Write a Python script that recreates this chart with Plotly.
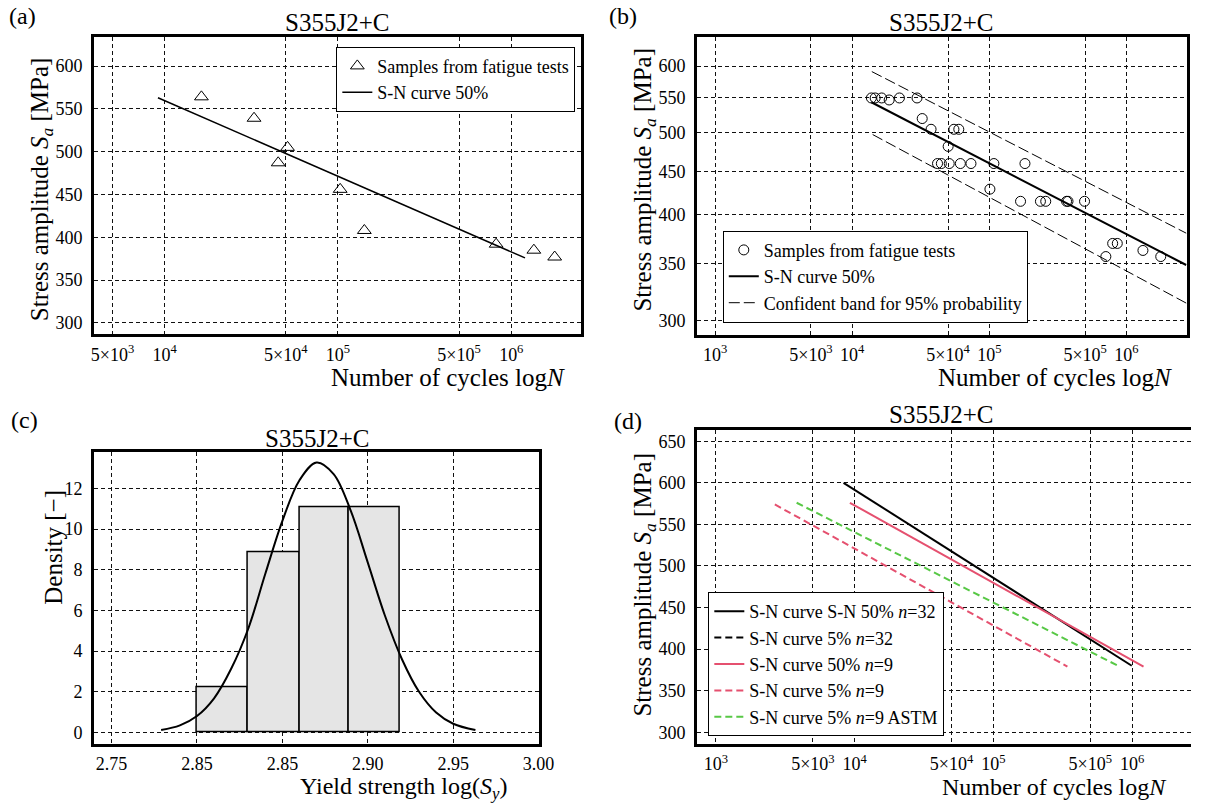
import numpy as np
import plotly.graph_objects as go

W, H = 1206, 803
FONT = "Liberation Serif"

# ---------------- (a) data ----------------
a_cycles = [16300, 32800, 45200, 51200, 103000, 142000, 818000, 1350000, 1780000]
a_stress = [564, 539, 487, 505, 456, 408, 392, 385, 377]
a_curve_cycles = [9150, 1200000]
a_curve_stress = [563, 376]
a_xticks = [5e3, 1e4, 5e4, 1e5, 5e5, 1e6]
a_xticktext = ["5×10<sup>3</sup>", "10<sup>4</sup>", "5×10<sup>4</sup>", "10<sup>5</sup>",
               "5×10<sup>5</sup>", "10<sup>6</sup>"]
a_yticks = [300, 350, 400, 450, 500, 550, 600]

# ---------------- (b) data ----------------
b_cycles = [13800, 14700, 16400, 18600, 22100, 29700, 32400, 37600, 55200, 59900,
            50100, 41900, 44700, 51000, 61500, 73500, 108000, 182000, 101000,
            169000, 236000, 258000, 366000, 375000, 495000, 708000, 794000, 858000,
            1320000, 1780000]
b_stress = [550, 550, 550, 547, 550, 550, 520, 505, 505, 505,
            482, 460, 460, 460, 460, 460, 460, 460, 429,
            415, 415, 415, 415, 415, 415, 357, 370, 370,
            363, 357]
b_curve_cycles = [13800, 2730000]
b_curve_stress = [543.6, 348.9]
b_upper_cycles = [13900, 2730000]
b_upper_stress = [591, 380.5]
b_lower_cycles = [14100, 2730000]
b_lower_stress = [497.8, 314.5]
bd_xticks = [1e3, 5e3, 1e4, 5e4, 1e5, 5e5, 1e6]
bd_xticktext = ["10<sup>3</sup>", "5×10<sup>3</sup>", "10<sup>4</sup>", "5×10<sup>4</sup>",
                "10<sup>5</sup>", "5×10<sup>5</sup>", "10<sup>6</sup>"]
b_yticks = [300, 350, 400, 450, 500, 550, 600]

# ---------------- (c) data ----------------
c_bin_edges = [2.800, 2.830, 2.860, 2.889, 2.919]
c_density = [2.24, 8.88, 11.08, 11.08]
c_pdf_x = [2.779, 2.79, 2.80, 2.81, 2.82, 2.83, 2.84, 2.85, 2.86, 2.87, 2.88,
           2.89, 2.90, 2.91, 2.92, 2.93, 2.94, 2.95, 2.963]
c_pdf_y = [0.12, 0.35, 0.81, 1.68, 3.13, 5.1, 7.8, 10.4, 12.4, 13.27, 12.7,
           10.9, 8.35, 5.75, 3.6, 2.0, 0.98, 0.43, 0.12]
c_xticks = [2.75, 2.80, 2.85, 2.90, 2.95, 3.00]
c_xticktext = ["2.75", "2.85", "2.85", "2.90", "2.95", "3.00"]
c_yticks = [0, 2, 4, 6, 8, 10, 12]

# ---------------- (d) data ----------------
d_n32_50_cycles = [8320, 995000]
d_n32_50_stress = [600, 380]
d_n9_50_cycles = [9250, 1210000]
d_n9_50_stress = [576, 379]
d_n9_5_cycles = [2660, 342000]
d_n9_5_stress = [574, 379]
d_n9_astm_cycles = [3820, 813000]
d_n9_astm_stress = [576, 379]
d_yticks = [300, 350, 400, 450, 500, 550, 600, 650]

RED = "#e5506f"
GREEN = "#58c846"


def px(x):
    return x / W


def py(y):
    return 1 - y / H


fig = go.Figure()

# (a)
fig.add_trace(go.Scatter(x=a_cycles, y=a_stress, mode="markers", name="Samples from fatigue tests",
                         marker=dict(symbol="triangle-up-open", size=12, color="black", line=dict(width=1)),
                         xaxis="x", yaxis="y", legend="legend"))
fig.add_trace(go.Scatter(x=a_curve_cycles, y=a_curve_stress, mode="lines", name="S-N curve 50%",
                         line=dict(color="black", width=1.5), xaxis="x", yaxis="y", legend="legend"))

# (b)
fig.add_trace(go.Scatter(x=b_cycles, y=b_stress, mode="markers", name="Samples from fatigue tests",
                         marker=dict(symbol="circle-open", size=10, color="black", line=dict(width=1)),
                         xaxis="x2", yaxis="y2", legend="legend2"))
fig.add_trace(go.Scatter(x=b_curve_cycles, y=b_curve_stress, mode="lines", name="S-N curve 50%",
                         line=dict(color="black", width=2), xaxis="x2", yaxis="y2", legend="legend2"))
fig.add_trace(go.Scatter(x=b_upper_cycles, y=b_upper_stress, mode="lines",
                         name="Confident band for 95% probability",
                         line=dict(color="black", width=1, dash="11px,4px"), xaxis="x2", yaxis="y2",
                         legend="legend2"))
fig.add_trace(go.Scatter(x=b_lower_cycles, y=b_lower_stress, mode="lines", showlegend=False,
                         line=dict(color="black", width=1, dash="11px,4px"), xaxis="x2", yaxis="y2"))

# (c)
edges = np.array(c_bin_edges)
fig.add_trace(go.Bar(x=(edges[:-1] + edges[1:]) / 2, y=c_density, width=np.diff(edges),
                     marker=dict(color="#e5e5e5", line=dict(color="black", width=1.5)),
                     showlegend=False, xaxis="x3", yaxis="y3"))
fig.add_trace(go.Scatter(x=c_pdf_x, y=c_pdf_y, mode="lines", line=dict(color="black", width=2, shape="spline"),
                         showlegend=False, xaxis="x3", yaxis="y3"))

# (d)
fig.add_trace(go.Scatter(x=d_n32_50_cycles, y=d_n32_50_stress, mode="lines",
                         name="S-N curve S-N 50% <i>n</i>=32",
                         line=dict(color="black", width=2), xaxis="x4", yaxis="y4", legend="legend3"))
fig.add_trace(go.Scatter(x=[None], y=[None], mode="lines", name="S-N curve 5% <i>n</i>=32",
                         line=dict(color="black", width=2, dash="7px,4px"), xaxis="x4", yaxis="y4",
                         legend="legend3"))
fig.add_trace(go.Scatter(x=d_n9_50_cycles, y=d_n9_50_stress, mode="lines", name="S-N curve 50% <i>n</i>=9",
                         line=dict(color=RED, width=2), xaxis="x4", yaxis="y4", legend="legend3"))
fig.add_trace(go.Scatter(x=d_n9_5_cycles, y=d_n9_5_stress, mode="lines", name="S-N curve 5% <i>n</i>=9",
                         line=dict(color=RED, width=2, dash="7px,4px"), xaxis="x4", yaxis="y4",
                         legend="legend3"))
fig.add_trace(go.Scatter(x=d_n9_astm_cycles, y=d_n9_astm_stress, mode="lines",
                         name="S-N curve 5% <i>n</i>=9 ASTM",
                         line=dict(color=GREEN, width=2, dash="7px,4px"), xaxis="x4", yaxis="y4",
                         legend="legend3"))

tickfont = dict(family=FONT, size=18, color="black")
common = dict(showgrid=True, gridcolor="#111", gridwidth=1, griddash="4px,3px", zeroline=False,
              showline=True, linecolor="black", linewidth=2.5, ticks="", tickfont=tickfont)
xc = dict(common, ticklabelstandoff=2)
yc = dict(common, ticklabelstandoff=5)

layout = dict(
    width=W, height=H, margin=dict(l=0, r=0, t=0, b=0),
    paper_bgcolor="white", plot_bgcolor="white",
    font=dict(family=FONT, color="black"),
    xaxis=dict(domain=[px(92.3), px(586.7)], type="log", range=[3.592, 6.402], anchor="y",
               tickvals=a_xticks, ticktext=a_xticktext, mirror=True, **xc),
    yaxis=dict(domain=[py(334.3), py(36.7)], range=[286.8, 634.2], anchor="x",
               tickvals=a_yticks, mirror=True, **yc),
    xaxis2=dict(domain=[px(704.4), px(1201.8)], type="log", range=[2.867, 6.441], anchor="y2",
                tickvals=bd_xticks, ticktext=bd_xticktext, mirror=True, **xc),
    yaxis2=dict(domain=[py(334.7), py(36.5)], type="log", range=[2.4602, 2.8131], anchor="x2",
                tickvals=b_yticks, ticktext=[str(v) for v in b_yticks], mirror=True, **yc),
    xaxis3=dict(domain=[px(92.2), px(544.6)], range=[2.7396, 3.0005], anchor="y3",
                tickvals=c_xticks, ticktext=c_xticktext, mirror=True, **xc),
    yaxis3=dict(domain=[py(743.5), py(452.3)], range=[-0.54, 13.77], anchor="x3",
                tickvals=c_yticks, mirror=True, **yc),
    xaxis4=dict(domain=[px(704.4), 1.0], type="log", range=[2.863, 6.425], anchor="y4",
                tickvals=bd_xticks, ticktext=bd_xticktext, mirror=True, **xc),
    yaxis4=dict(domain=[py(744), py(429.5)], range=[285.9, 664.1], anchor="x4",
                tickvals=d_yticks, mirror=False, **yc),
    legend=dict(x=px(581), y=py(46.7), xanchor="right", yanchor="top", bgcolor="white",
                bordercolor="black", borderwidth=1, font=dict(family=FONT, size=18, color="black"),
                tracegroupgap=0),
    legend2=dict(x=px(730.7), y=py(322.7), xanchor="left", yanchor="bottom", bgcolor="white",
                 bordercolor="black", borderwidth=1, font=dict(family=FONT, size=18, color="black"),
                 tracegroupgap=0),
    legend3=dict(x=px(716), y=py(736), xanchor="left", yanchor="bottom", bgcolor="white",
                 bordercolor="black", borderwidth=1, font=dict(family=FONT, size=18, color="black"),
                 tracegroupgap=0),
    bargap=0,
)
fig.update_layout(**layout)

ann = []


def text(t, x, y, size, angle=0, yanchor="middle"):
    ann.append(dict(text=t, x=px(x), y=py(y), xref="paper", yref="paper", showarrow=False,
                    xanchor="center", yanchor=yanchor, textangle=angle,
                    font=dict(family=FONT, size=size, color="black")))


YT = "Stress amplitude <i>S<sub>a</sub></i> [MPa]"
XT = "Number of cycles log<i>N</i>"
# (a)
text("S355J2+C", 339.5, 22, 25)
text("(a)", 20, 16, 24)
text(YT, 38.8, 189, 25, -90)
text(XT, 452, 377, 25)
# (b)
text("S355J2+C", 952, 22, 25)
text("(b)", 629, 16, 24)
text(YT, 650.3, 180, 25, -90)
text(XT, 1067.7, 377, 25)
# (c)
text("S355J2+C", 318.4, 438.3, 25)
text("(c)", 21.8, 420, 24)
text("Density [−]", 50.5, 547, 25, -90)
text("Yield strength log(<i>S<sub>y</sub></i>)", 406.6, 771, 24, yanchor="top")
# (d)
text("S355J2+C", 951.8, 415, 25)
text("(d)", 634.8, 421, 24)
text(YT, 650.3, 585, 25, -90)
text(XT, 1067.7, 772, 24, yanchor="top")

fig.update_layout(annotations=ann)
fig.write_html("out.html", config={"displayModeBar": False},
               post_script="document.body.style.margin='0';document.body.style.overflow='hidden';")
